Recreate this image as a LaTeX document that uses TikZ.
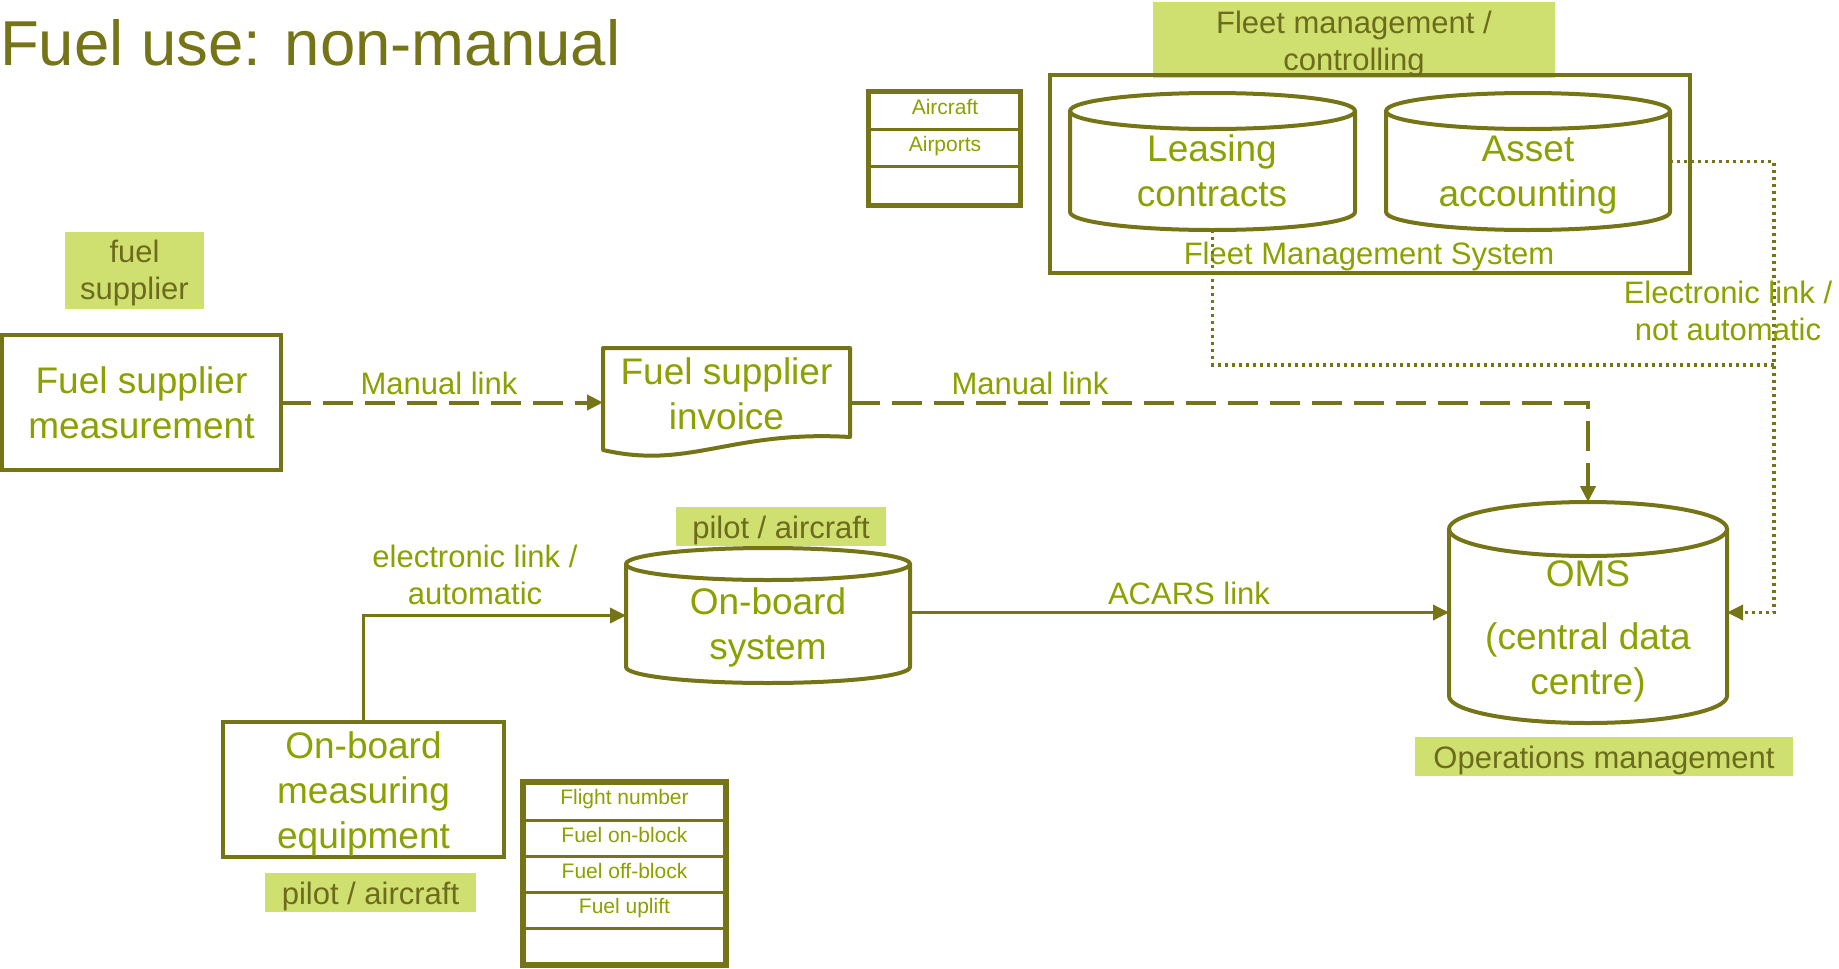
\documentclass[tikz,border=0pt]{standalone}
\usepackage{fontspec}
\setmainfont{Liberation Sans}
\usetikzlibrary{arrows.meta}
\definecolor{lineC}{RGB}{117,117,24}
\definecolor{txtG}{RGB}{140,160,0}
\definecolor{darkT}{RGB}{108,108,28}
\definecolor{hlG}{RGB}{208,224,112}
\newcommand\fbig{\fontsize{37}{45}\selectfont}
\newcommand\flab{\fontsize{31}{37}\selectfont}
\newcommand\fsmall{\fontsize{21}{25}\selectfont}
\newcommand\ftitle{\fontsize{63.5}{70}\selectfont}
\newcommand\dbcyl[6]{%
  \node[inner sep=0pt, outer sep=0pt, minimum width={(#4-#2)*1pt}, minimum height={(#5-#3)*1pt}] (#1) at ({(#2+#4)/2},{(#3+#5)/2}) {};
  \draw[cylline] (#2,{#3+#6}) -- (#2,{#5-#6}) arc[start angle=180, end angle=360, x radius={(#4-#2)/2*1pt}, y radius={#6*1pt}] -- (#4,{#3+#6});
  \draw[cylline] ({(#2+#4)/2},{#3+#6}) ellipse[x radius={(#4-#2)/2*1pt}, y radius={#6*1pt}];
}
\begin{document}
\begin{tikzpicture}[x=1pt,y=-1pt,
  box/.style={draw=lineC, line width=4pt, inner sep=0pt, outer sep=0pt, text=txtG, align=center, font=\fbig},
  hl/.style={fill=hlG, inner sep=0pt, outer sep=0pt},
  hltext/.style={text=darkT, align=center, font=\flab, inner sep=0pt},
  lab/.style={text=txtG, align=center, font=\flab, inner sep=0pt},
  ctext/.style={text=txtG, align=center, font=\fbig, inner sep=0pt},
  stext/.style={text=txtG, align=center, font=\fsmall, inner sep=0pt},
  cylline/.style={draw=lineC, line width=4pt},
  dashln/.style={draw=lineC, line width=4pt, dash pattern=on 30pt off 12pt},
  dotln/.style={draw=lineC, line width=3.5pt, dash pattern=on 3pt off 4pt},
  solidln/.style={draw=lineC, line width=3.5pt},
  arrowtip/.style={-{Triangle[length=16pt,width=15pt]}},
  tabframe/.style={draw=lineC, inner sep=0pt, outer sep=0pt},
  tabline/.style={draw=lineC, line width=3pt}
]
\fill[white] (0,0) rectangle (1839,969);
\useasboundingbox (0,0) rectangle (1839,969);

% title
\node[anchor=base west, inner sep=0pt, text=lineC, font=\ftitle] (title) at (0,65) {Fuel use: non-manual};

% highlight labels
\node[hl, minimum width=402pt, minimum height=76pt] (fmc) at (1354,40) {};
\node[hl, minimum width=139pt, minimum height=77pt] (fsup) at (134.5,270.5) {};
\node[hltext] (fsupt) at (134.5,273) {fuel\\supplier};
\node[hl, minimum width=210pt, minimum height=39pt] (pilotA) at (781,526.5) {};
\node[hltext] (pilotAt) at (781,530) {pilot / aircraft};
\node[hl, minimum width=211pt, minimum height=39pt] (pilotB) at (370.5,892.5) {};
\node[hltext] (pilotBt) at (370.5,896) {pilot / aircraft};
\node[hl, minimum width=378pt, minimum height=39pt] (opsm) at (1604,756.5) {};
\node[hltext] (opsmt) at (1604,760) {Operations management};

% fleet management system frame
\node[draw=lineC, line width=3.5pt, inner sep=0pt, outer sep=0pt, minimum width=640pt, minimum height=198pt] (fms) at (1370,174) {};
\node[hltext] (fmctext) at (1354,44) {Fleet management /\\controlling};
\node[lab] (fmstext) at (1369,256) {Fleet Management System};

% Aircraft / Airports table
\node[tabframe, line width=5pt, minimum width=152pt, minimum height=114pt] (actab) at (944,148) {};
\draw[tabline] (868,129) -- (1020,129);
\draw[tabline] (868,166) -- (1020,166);
\node[stext] (acA) at (945,107) {Aircraft};
\node[stext] (acB) at (945,146) {Airports};

% Flight table
\node[tabframe, line width=6.5pt, minimum width=203pt, minimum height=183pt] (fltab) at (624.5,873.5) {};
\draw[tabline] (523,820) -- (726,820);
\draw[tabline] (523,856) -- (726,856);
\draw[tabline] (523,892) -- (726,892);
\draw[tabline] (523,928) -- (726,928);
\node[stext] (flA) at (624.5,799) {Flight number};
\node[stext] (flB) at (624.5,835) {Fuel on-block};
\node[stext] (flC) at (624.5,871) {Fuel off-block};
\node[stext] (flD) at (624.5,908) {Fuel uplift};

% boxes
\node[box, minimum width=279pt, minimum height=135pt] (fsm) at (141.5,402.5) {Fuel supplier\\measurement};
\node[box, minimum width=281pt, minimum height=135pt] (ome) at (363.5,789.5) {};
\node[ctext] (ometext) at (363.5,794) {On-board\\measuring\\equipment};

% invoice (document shape)
\node[inner sep=0pt, outer sep=0pt, minimum width=247pt, minimum height=89pt, text=txtG, align=center, font=\fbig] (inv) at (726.5,394) {Fuel supplier\\invoice};
\draw[cylline, line join=round] (603,348) -- (850,348) -- (850,437) .. controls (730,430) and (690,470) .. (603,450) -- cycle;

% cylinders
\dbcyl{lc}{1070}{93}{1355}{230}{18}
\dbcyl{as}{1386}{93}{1670}{230}{18}
\dbcyl{obs}{626}{548}{910}{683}{16}
\dbcyl{oms}{1449}{502}{1727}{723}{27}
\node[ctext] (lctext) at (1212,171) {Leasing\\contracts};
\node[ctext] (astext) at (1528,175) {Asset\\accounting};
\node[ctext] (obstext) at (768,627) {On-board\\system};
\node[ctext] (omstext) at (1588,631) {OMS\\[18pt](central data\\centre)};

% connectors
\coordinate (dc) at (1774,365);
\draw[dashln, arrowtip] (fsm.east) -- (fsm.east -| inv.west);
\draw[dashln, arrowtip] (inv.east |- fsm.east) -| (oms.north);
\draw[solidln, arrowtip] (ome.north) |- (obs.west);
\draw[solidln, arrowtip] (oms.west -| obs.east) -- (oms.west);
\draw[dotln] (lc.south) |- (dc);
\draw[dotln, arrowtip] (as.east) -| (dc |- oms.east) -- (oms.east);

% connector labels
\node[lab] (ml1) at (439,383) {Manual link};
\node[lab] (ml2) at (1030,383) {Manual link};
\node[lab] (ell) at (475,575) {electronic link /\\automatic};
\node[lab] (acars) at (1189,593) {ACARS link};
\node[lab] (elna) at (1728,311) {Electronic link /\\not automatic};
\end{tikzpicture}
\end{document}
